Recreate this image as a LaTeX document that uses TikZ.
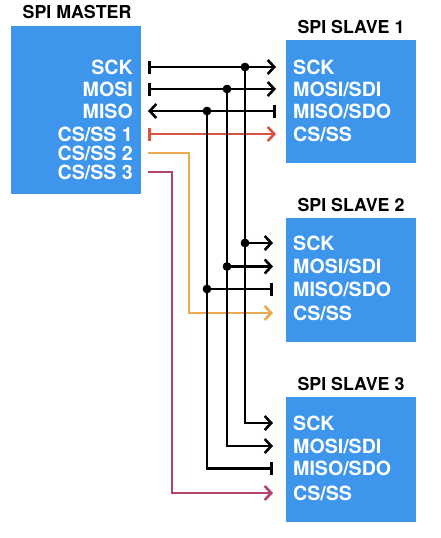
\documentclass[tikz,border=0pt]{standalone}
\usepackage{fontspec}
\setmainfont{TeX Gyre Heros}
\usetikzlibrary{arrows.meta}
\definecolor{boxblue}{RGB}{62,150,236}
\definecolor{sigred}{RGB}{216,84,64}
\definecolor{sigorange}{RGB}{234,170,80}
\definecolor{sigmag}{RGB}{182,64,110}
\tikzset{
  chip/.style={fill=boxblue,draw=none,inner sep=0pt,minimum width=130pt},
  title/.style={font=\fontsize{17.8}{18}\selectfont\bfseries,text=black,inner sep=0pt,text height=12.8pt,text depth=0pt},
  pin/.style={font=\fontsize{19.6}{20}\selectfont\bfseries,text=white,inner sep=0pt,text height=14pt,text depth=0pt},
  sig/.style={line width=2.6pt,black},
  parr/.tip={Straight Barb[length=6.5pt,width=14pt]},
  pbar/.tip={Bar[width=13pt]},
  dot/.style={circle,fill=black,inner sep=0pt,minimum size=8.5pt}
}
\begin{document}
\begin{tikzpicture}[x=1pt,y=-1pt]
\useasboundingbox (0,0) rectangle (441,538);
% boxes
\node[chip,minimum height=168pt,anchor=north west] (master) at (11,26) {};
\node[chip,minimum height=123pt,anchor=north west] (slave1) at (286,40) {};
\node[chip,minimum height=124pt,anchor=north west] (slave2) at (286,218) {};
\node[chip,minimum height=125pt,anchor=north west] (slave3) at (286,397) {};
% titles
\node[title] (tm) at (77,12) {SPI MASTER};
\node[title] (t1) at (351,27) {SPI SLAVE 1};
\node[title] (t2) at (351,205) {SPI SLAVE 2};
\node[title] (t3) at (351,384) {SPI SLAVE 3};
% master pins
\node[pin,anchor=east] (mSCK) at (133,67) {SCK};
\node[pin,anchor=east] (mMOSI) at (133,89) {MOSI};
\node[pin,anchor=east] (mMISO) at (133,111) {MISO};
\node[pin,anchor=east] (mCS1) at (133,134) {CS/SS 1};
\node[pin,anchor=east] (mCS2) at (133,153) {CS/SS 2};
\node[pin,anchor=east] (mCS3) at (133,172) {CS/SS 3};
% slave pins
\foreach \s/\a/\b/\c/\d in {1/67/89/111/134,2/243/266.5/289/313,3/423/446/468.5/493}{
  \node[pin,anchor=west] (s\s SCK) at (293,\a) {SCK};
  \node[pin,anchor=west] (s\s MOSI) at (293,\b) {MOSI/SDI};
  \node[pin,anchor=west] (s\s MISO) at (293,\c) {MISO/SDO};
  \node[pin,anchor=west] (s\s CS) at (293,\d) {CS/SS};
}
% port coordinates (master side)
\coordinate (pSCK) at ([xshift=15pt]mSCK.east);
\coordinate (pMOSI) at ([xshift=15pt]mMOSI.east);
\coordinate (pMISO) at ([xshift=15pt]mMISO.east);
\coordinate (pCS1) at ([xshift=15pt]mCS1.east);
\coordinate (pCS2) at ([xshift=15pt]mCS2.east);
\coordinate (pCS3) at ([xshift=15pt]mCS3.east);
% bus columns
\coordinate (xSCK) at (245,0);
\coordinate (xMOSI) at (227,0);
\coordinate (xMISO) at (207,0);
\coordinate (xCS2) at (189,0);
\coordinate (xCS3) at (172,0);
% junctions
\node[dot] (jSCK1) at (xSCK |- mSCK.east) {};
\node[dot] (jMOSI1) at (xMOSI |- mMOSI.east) {};
\node[dot] (jMISO1) at (xMISO |- mMISO.east) {};
\node[dot] (jSCK2) at (xSCK |- s2SCK.west) {};
\node[dot] (jMOSI2) at (xMOSI |- s2MOSI.west) {};
\node[dot] (jMISO2) at (xMISO |- s2MISO.west) {};
% slave 1
\draw[sig,{pbar}-{parr}] (pSCK) -- ([xshift=-17pt]s1SCK.west);
\draw[sig,{pbar}-{parr}] (pMOSI) -- ([xshift=-17pt]s1MOSI.west);
\draw[sig,{parr}-{pbar}] (pMISO) -- ([xshift=-17pt]s1MISO.west);
\draw[sig,sigred,{pbar}-{parr}] (pCS1) -- ([xshift=-17pt]s1CS.west);
% buses
\draw[sig] (jSCK1.center) -- (jSCK2.center);
\draw[sig] (jMOSI1.center) -- (jMOSI2.center);
\draw[sig] (jMISO1.center) -- (jMISO2.center);
% slave 2
\draw[sig,-{parr}] (jSCK2.center) -- ([xshift=-20pt]s2SCK.west);
\draw[sig,-{parr}] (jMOSI2.center) -- ([xshift=-20pt]s2MOSI.west);
\draw[sig,-{pbar}] (jMISO2.center) -- ([xshift=-20pt]s2MISO.west);
\draw[sig,sigorange,-{parr}] (pCS2) -| (xCS2 |- s2CS.west) -- ([xshift=-20pt]s2CS.west);
% slave 3
\draw[sig,-{parr}] (jSCK2.center) |- ([xshift=-20pt]s3SCK.west);
\draw[sig,-{parr}] (jMOSI2.center) |- ([xshift=-20pt]s3MOSI.west);
\draw[sig,-{pbar}] (jMISO2.center) |- ([xshift=-20pt]s3MISO.west);
\draw[sig,sigmag,-{parr}] (pCS3) -| (xCS3 |- s3CS.west) -- ([xshift=-20pt]s3CS.west);
% dots on top
\foreach \j in {jSCK1,jMOSI1,jMISO1,jSCK2,jMOSI2,jMISO2}{\fill (\j) circle (4.2pt);}
\end{tikzpicture}
\end{document}
